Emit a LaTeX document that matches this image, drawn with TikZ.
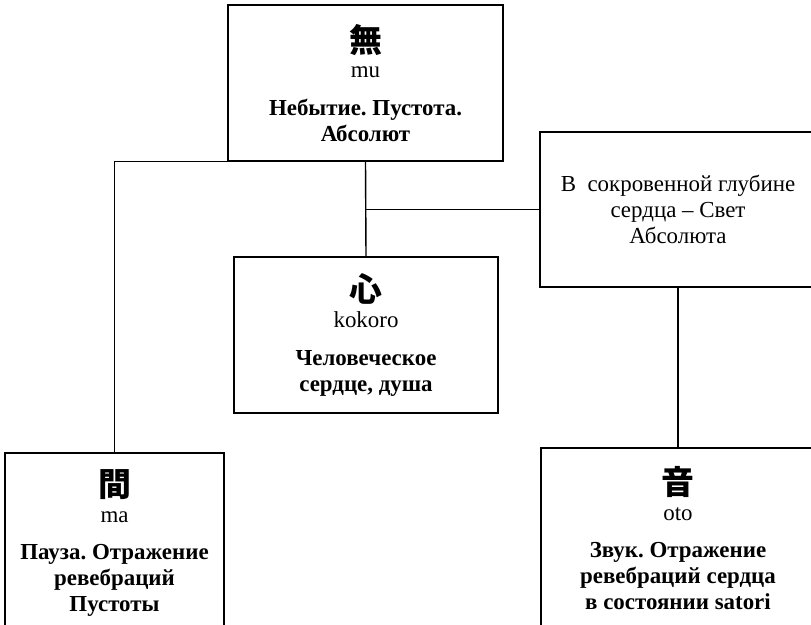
\documentclass[tikz,border=0pt]{standalone}
\usepackage{fontspec}
\setmainfont{Liberation Serif}
\newfontfamily\cjk{Noto Sans CJK JP}
\frenchspacing

\tikzset{
  termbox/.style={draw, line width=1.4bp, align=center, inner sep=0pt,
    font=\fontsize{23}{26}\selectfont},
  link/.style={line width=1.4bp},
}
\newcommand{\kanji}[1]{{\cjk\bfseries\fontsize{33}{33}\selectfont #1}}

\begin{document}
\begin{tikzpicture}[x=1bp, y=-1bp]
  \useasboundingbox (0,0) rectangle (811,625);
  \clip (0,0) rectangle (811,625);

  \node[termbox, minimum width=275bp, minimum height=156bp] (mu) at (365.5,83)
    {\kanji{無}\\ mu\\[12bp] \textbf{Небытие. Пустота.}\\ \textbf{Абсолют}};
  \node[termbox, minimum width=276bp, minimum height=155bp] (light) at (678,209.5)
    {В\ \ сокровенной глубине\\ сердца – Свет\\ Абсолюта};
  \node[termbox, minimum width=264bp, minimum height=156bp] (kokoro) at (366,335)
    {\kanji{心}\\ kokoro\\[12bp] \textbf{Человеческое}\\ \textbf{сердце, душа}};
  \node[termbox, minimum width=219bp, minimum height=180bp] (ma) at (114.5,543)
    {\kanji{間}\\ ma\\[12bp] \textbf{Пауза. Отражение}\\ \textbf{ревебраций}\\ \textbf{Пустоты}};
  \node[termbox, minimum width=274bp, minimum height=180bp] (oto) at (678,538)
    {\kanji{音}\\ oto\\[12bp] \textbf{Звук. Отражение}\\ \textbf{ревебраций сердца}\\ \textbf{в состоянии satori}};

  \draw[link] (mu.south west) -| (ma.north);
  \draw[link] (mu.south) -- (kokoro.north);
  \draw[link] (light.west) -- (light.west -| mu.south);
  \draw[link] (light.south) -- (oto.north);
\end{tikzpicture}
\end{document}
